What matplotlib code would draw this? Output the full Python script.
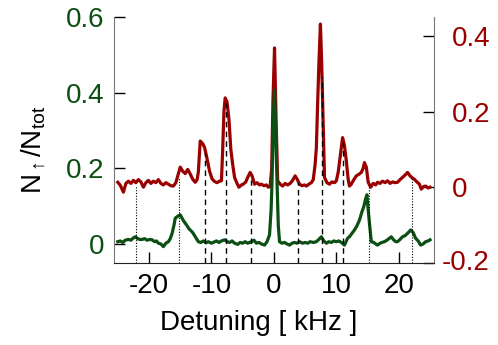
import numpy as np
import matplotlib
matplotlib.use('Agg')
import matplotlib.pyplot as plt
import matplotlib.transforms as mtransforms

plt.rcParams['font.family'] = ['Liberation Sans', 'DejaVu Sans']
plt.rcParams['mathtext.fontset'] = 'custom'
plt.rcParams['mathtext.rm'] = 'Liberation Sans'
plt.rcParams['mathtext.it'] = 'Liberation Sans:italic'

# red trace (right axis)
red_x = [-25.0, -24.6, -24.1, -23.7, -23.3, -22.9, -22.5, -22.1, -21.7, -21.3,
         -20.9, -20.5, -20.1, -19.7, -19.3, -18.9, -18.5, -18.1, -17.7, -17.3,
         -16.9, -16.5, -16.1, -15.7, -15.4, -15.0, -14.6, -14.2, -13.8, -13.4,
         -13.0, -12.6, -12.3, -12.1, -11.8, -11.4, -11.1, -10.7, -10.3, -9.9,
         -9.5, -9.1, -8.7, -8.4, -8.2, -8.0, -7.8, -7.5, -7.2, -6.9,
         -6.6, -6.3, -5.9, -5.6, -5.2, -4.9, -4.5, -4.2, -3.8, -3.5,
         -3.1, -2.7, -2.3, -2.0, -1.6, -1.2, -0.9, -0.6, -0.35, -0.15,
         0.1, 0.35, 0.6, 1.0, 1.4, 1.8, 2.2, 2.6, 3.0, 3.4,
         3.7, 4.1, 4.5, 4.9, 5.2, 5.6, 6.0, 6.3, 6.6, 6.8,
         7.0, 7.2, 7.45, 7.65, 7.85, 8.1, 8.5, 8.9, 9.3, 9.7,
         10.0, 10.3, 10.6, 11.0, 11.3, 11.6, 11.9, 12.1, 12.4, 12.8,
         13.2, 13.6, 14.0, 14.3, 14.5, 14.8, 15.1, 15.5, 15.9, 16.3,
         16.6, 17.0, 17.4, 17.8, 18.2, 18.6, 19.0, 19.4, 19.8, 20.2,
         20.6, 21.0, 21.4, 21.8, 22.2, 22.5, 22.9, 23.3, 23.6, 24.0,
         24.3, 24.7, 25.0]
red_y = [0.013, 0.005, -0.013, 0.010, 0.016, 0.010, 0.018, 0.012, 0.020, 0.014,
         0.000, 0.012, 0.018, 0.010, 0.016, 0.012, 0.020, 0.010, 0.006, 0.012,
         0.008, 0.004, 0.003, 0.012, 0.030, 0.053, 0.042, 0.036, 0.047, 0.035,
         0.021, 0.013, 0.020, 0.040, 0.122, 0.115, 0.105, 0.075, 0.042, 0.022,
         0.015, 0.012, 0.016, 0.017, 0.100, 0.200, 0.236, 0.225, 0.180, 0.100,
         0.060, 0.026, 0.010, 0.000, 0.006, 0.008, 0.014, 0.026, 0.039, 0.030,
         0.008, 0.012, 0.006, 0.008, 0.004, 0.006, 0.000, 0.002, 0.050, 0.230,
         0.368, 0.180, 0.017, 0.008, 0.003, 0.010, 0.006, 0.010, 0.018, 0.030,
         0.022, 0.008, 0.004, 0.006, 0.003, 0.008, 0.012, 0.020, 0.060, 0.105,
         0.220, 0.324, 0.431, 0.330, 0.192, 0.026, 0.012, 0.008, 0.014, 0.012,
         0.017, 0.040, 0.080, 0.131, 0.110, 0.069, 0.020, 0.003, 0.008, 0.020,
         0.030, 0.034, 0.039, 0.050, 0.065, 0.053, 0.013, 0.000, 0.010, 0.006,
         0.013, 0.010, 0.016, 0.012, 0.017, 0.010, 0.014, 0.012, 0.013, 0.020,
         0.026, 0.032, 0.039, 0.030, 0.024, 0.021, 0.014, 0.008, -0.005, 0.002,
         0.003, -0.002, 0.000]

# green trace (left axis)
green_x = [-25.0, -24.6, -24.2, -23.8, -23.3, -22.9, -22.5, -22.2, -21.8, -21.5,
           -21.1, -20.7, -20.3, -19.9, -19.5, -19.1, -18.8, -18.5, -18.1, -17.7,
           -17.3, -16.9, -16.6, -16.3, -16.0, -15.8, -15.5, -15.2, -15.0, -14.7,
           -14.5, -14.2, -13.9, -13.6, -13.4, -13.0, -12.6, -12.4, -12.1, -11.7,
           -11.3, -10.9, -10.5, -10.0, -9.6, -9.2, -8.8, -8.4, -7.9, -7.5,
           -7.1, -6.7, -6.3, -5.8, -5.4, -5.0, -4.6, -4.2, -3.6, -3.2,
           -2.8, -2.4, -2.0, -1.5, -1.1, -0.7, -0.45, -0.3, -0.1, 0.1,
           0.3, 0.5, 0.7, 0.9, 1.3, 1.7, 2.1, 2.5, 2.9, 3.3,
           3.7, 4.1, 4.6, 5.0, 5.4, 5.8, 6.3, 6.8, 7.2, 7.6,
           8.0, 8.4, 8.8, 9.2, 9.6, 10.0, 10.4, 10.8, 11.3, 11.8,
           12.1, 12.5, 12.9, 13.3, 13.7, 14.1, 14.4, 14.7, 14.9, 15.1,
           15.3, 15.6, 16.0, 16.3, 16.6, 17.0, 17.3, 17.7, 18.1, 18.4,
           18.8, 19.1, 19.5, 19.8, 20.2, 20.6, 21.0, 21.4, 21.9, 22.3,
           22.7, 23.1, 23.5, 23.9, 24.3, 24.7, 25.0]
green_y = [0.006, 0.008, 0.004, 0.010, 0.012, 0.010, 0.016, 0.019, 0.014, 0.012,
           0.012, 0.014, 0.010, 0.012, 0.011, 0.006, 0.008, 0.002, 0.000, -0.007,
           0.002, 0.006, 0.014, 0.028, 0.050, 0.068, 0.072, 0.075, 0.077, 0.068,
           0.062, 0.055, 0.048, 0.040, 0.037, 0.030, 0.019, 0.014, 0.006, 0.004,
           0.008, 0.003, 0.006, 0.002, 0.005, 0.008, 0.004, 0.008, 0.011, 0.006,
           0.004, 0.008, 0.002, -0.001, 0.004, 0.002, 0.006, 0.002, 0.006, 0.010,
           0.002, 0.004, 0.000, -0.003, 0.006, 0.024, 0.090, 0.165, 0.330, 0.407,
           0.280, 0.165, 0.050, 0.006, 0.002, 0.004, 0.000, -0.003, 0.002, 0.004,
           0.002, 0.006, 0.002, 0.004, 0.002, 0.006, 0.004, 0.006, 0.012, 0.019,
           0.008, 0.002, 0.006, 0.004, 0.008, 0.006, 0.008, 0.004, -0.003, 0.015,
           0.019, 0.028, 0.037, 0.048, 0.063, 0.085, 0.099, 0.120, 0.130, 0.090,
           0.055, 0.006, 0.004, 0.000, -0.003, 0.002, 0.004, 0.006, 0.010, 0.014,
           0.019, 0.012, 0.006, 0.006, 0.012, 0.019, 0.022, 0.028, 0.037, 0.030,
           0.015, 0.008, -0.003, 0.000, 0.006, 0.008, 0.011]

# guide lines: position and top (left axis units)
dashed_x = [-11.1, -7.6, -3.7, 3.9, 7.7, 11.1]
dashed_top = [0.24, 0.373, 0.17, 0.165, 0.44, 0.27]
dotted_x = [-22.1, -15.2, 15.2, 22.1]
dotted_top = [0.153, 0.178, 0.17, 0.178]

green = '#0b4f12'
red = '#9b0000'

fig = plt.figure(figsize=(4.98, 3.45), dpi=100)
ax1 = fig.add_axes([0.229, 0.238, 0.642, 0.713])
ax2 = ax1.twinx()
ax1.set_zorder(ax2.get_zorder() + 1)
ax1.patch.set_visible(False)

ax2.plot(red_x, red_y, color=red, lw=2.3, solid_joinstyle='round')
ax1.plot(green_x, green_y, color=green, lw=2.3, solid_joinstyle='round')

ax1.vlines(dashed_x, -0.05, dashed_top, colors='black', lw=1.0,
           linestyles=(0, (4, 3)))
ax1.vlines(dotted_x, -0.05, dotted_top, colors='black', lw=0.8,
           linestyles=(0, (1, 1.5)))

ax1.set_xlim(-25.6, 25.6)
ax1.set_ylim(-0.05, 0.6)
ax2.set_ylim(-0.2, 0.45)

ax1.set_xticks([-20, -10, 0, 10, 20])
ax1.set_xticklabels(['-20', '-10', '0', '10', '20'])
ax1.set_yticks([0, 0.2, 0.4, 0.6])
ax1.set_yticklabels(['0', '0.2', '0.4', '0.6'])
ax2.set_yticks([-0.2, 0, 0.2, 0.4])
ax2.set_yticklabels(['', '0', '0.2', '0.4'])

fs = 20
ax1.tick_params(axis='x', direction='in', length=8, width=1, labelsize=fs,
                pad=7, colors='black')
ax1.tick_params(axis='y', direction='in', length=8, width=1, labelsize=fs,
                pad=7, labelcolor=green, color='black')
ax2.tick_params(axis='y', direction='in', length=8, width=1, labelsize=fs,
                pad=13, labelcolor=red, color='black')

# bottom right label sits a bit further left, as in the original
trans = mtransforms.blended_transform_factory(ax2.transAxes, ax2.transData)
ax2.text(1.024, -0.2, '-0.2', transform=trans, ha='left', va='center',
         color=red, fontsize=fs, clip_on=False)

for ax in (ax1, ax2):
    ax.spines['top'].set_visible(False)
ax1.spines['right'].set_visible(False)
ax2.spines['left'].set_visible(False)
ax2.spines['bottom'].set_visible(False)
ax1.spines['left'].set_color('#777777')
ax2.spines['right'].set_color('#777777')
ax1.spines['bottom'].set_color('#222222')

ax1.set_xlabel('Detuning [ kHz ]', fontsize=fs)
ax1.xaxis.set_label_coords(0.453, -0.192)
ax1.set_ylabel(r'N$_{\uparrow}$/N$_{\rm tot}$', fontsize=fs)
ax1.yaxis.set_label_coords(-0.208, 0.46)

fig.savefig('out.png', dpi=100)
